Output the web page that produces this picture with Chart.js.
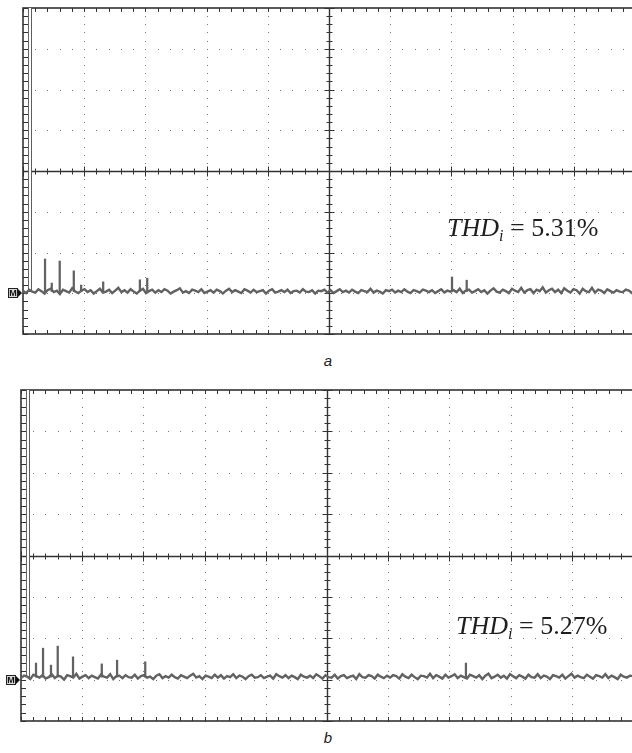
<!DOCTYPE html>
<html>
<head>
<meta charset="utf-8">
<script src="https://cdn.jsdelivr.net/npm/chart.js@4.4.1/dist/chart.umd.min.js"></script>
<style>
  html, body { margin: 0; padding: 0; background: #fff; overflow: hidden; width: 632px; height: 753px; }
  canvas { position: absolute; left: 0; }
  #scopeA { top: 0; }
  #scopeB { top: 380px; }
  .thd { position: absolute; font-family: "Liberation Serif", "Times New Roman", serif; font-size: 26px; line-height: 26px; color: #1e1e1e; white-space: nowrap; }
  .thd sub { font-size: 16px; vertical-align: -5px; line-height: 0; }
  .cap { position: absolute; left: 0; width: 656px; text-align: center; font-family: "Liberation Sans", Arial, sans-serif; font-style: italic; font-size: 15px; color: #222; }
</style>
</head>
<body>
<canvas id="scopeA" width="660" height="340"></canvas>
<canvas id="scopeB" width="660" height="345"></canvas>
<div class="thd" style="left:447px;top:215px"><i>THD<sub>i</sub></i> = 5.31%</div>
<div class="thd" style="left:456px;top:613px"><i>THD<sub>i</sub></i> = 5.27%</div>
<div class="cap" style="top:352px">a</div>
<div class="cap" style="top:729px">b</div>
<script>
// x in screen divisions (0..10), y in screen divisions (0..8)

// panel a
const floorA = 1.04;
const fundFreqA = 0.114;
const spikeFreqA = [0.36, 0.47, 0.60, 0.83, 0.95, 1.31, 1.91, 2.03, 7.01, 7.25];
const spikePeakA = [1.84, 1.25, 1.79, 1.55, 1.20, 1.28, 1.33, 1.37, 1.40, 1.32];
// noise floor, hundredths of a division around the floor
const noiseA = [
  2,-3,4,0,-2,5,1,-4,3,6,-1,2,-5,4,1,-2,7,0,-3,2,
  5,-1,3,-4,1,6,-2,0,4,-3,2,8,-1,3,-2,5,0,-4,2,6,
  -3,1,4,-2,3,-1,5,2,-4,0,3,7,-2,1,-3,4,2,-1,5,-3,
  0,3,-2,4,1,-4,2,6,-1,3,0,-3,5,2,-2,4,-1,1,3,-4,
  2,5,-2,0,3,-1,4,-3,1,2,-2,5,0,-1,3,-4,2,1,4,-2,
  3,-3,1,5,-1,2,-2,4,0,-3,3,1,-1,6,-2,2,0,-4,3,1,
  4,-2,2,-1,5,0,-3,3,1,-2,4,2,-1,3,-3,1,5,-2,2,0,
  3,-1,6,-3,2,4,-2,1,5,-1,3,-4,2,7,0,-2,4,1,-3,6,
  2,-1,8,-2,3,5,-3,4,1,9,-2,3,6,-1,4,-3,7,2,-2,5,
  3,-4,6,1,-1,8,-2,4,2,-3,5,1,-2,3,0,-1,4,2,-3,1
];

// panel b
const floorB = 1.06;
const fundFreqB = 0.114;
const spikeFreqB = [0.245, 0.36, 0.49, 0.60, 0.85, 1.32, 1.57, 2.03, 7.27];
const spikePeakB = [1.40, 1.76, 1.35, 1.81, 1.55, 1.38, 1.47, 1.43, 1.40];
const noiseB = [
  -2,3,1,-4,5,2,-1,4,-3,0,6,-2,3,1,-5,4,2,-1,7,-3,
  1,4,-2,3,0,-3,5,1,-1,6,-4,2,3,-2,4,0,-1,5,-3,2,
  4,-1,1,-4,3,6,-2,2,-1,5,0,-3,4,1,-2,3,7,-1,2,-4,
  3,1,-2,5,-1,4,-3,2,0,6,-2,3,1,-4,2,5,-1,0,4,-2,
  1,3,-3,6,2,-1,4,-2,3,0,-4,5,1,-1,3,-2,6,2,-3,4,
  0,-1,5,-3,2,4,-2,1,3,-4,6,0,-1,4,2,-3,5,1,-2,3,
  -1,4,2,-3,6,1,-2,5,0,-4,3,2,-1,7,-2,4,1,-3,5,-1,
  2,6,-2,3,0,-3,5,2,-1,4,-4,3,7,-2,1,5,-1,3,-3,6,
  2,-2,4,1,-3,5,0,-1,6,-2,3,1,-4,4,2,-1,5,-3,2,7,
  -1,3,0,-2,5,1,-3,4,2,-1,6,-2,3,0,-4,5,1,-1,3,2
];

const traceColor = '#626262';

// oscilloscope graticule: dotted grid, centre cross, border with ticks, "M" marker
const scopeGrid = {
  id: 'scopeGrid',
  beforeDatasetsDraw(chart) {
    const { ctx, chartArea: a, scales: { x, y } } = chart;
    const line = (x1, y1, x2, y2) => { ctx.beginPath(); ctx.moveTo(x1, y1); ctx.lineTo(x2, y2); ctx.stroke(); };
    ctx.save();
    ctx.fillStyle = '#777';
    for (let i = 1; i < 10; i++) {
      if (i === 5) continue;
      const px = Math.round(x.getPixelForValue(i));
      for (let k = 0; k <= 40; k++) ctx.fillRect(px, Math.round(y.getPixelForValue(k * 0.2)), 1, 1);
    }
    for (let j = 1; j < 8; j++) {
      if (j === 4) continue;
      const py = Math.round(y.getPixelForValue(j));
      for (let k = 0; k <= 50; k++) ctx.fillRect(Math.round(x.getPixelForValue(k * 0.2)), py, 1, 1);
    }

    const cx = Math.round(x.getPixelForValue(5)) + 0.5;
    const cy = Math.round(y.getPixelForValue(4)) + 0.5;
    ctx.strokeStyle = '#333';
    ctx.lineWidth = 1.4;
    line(a.left, cy, a.right, cy);
    line(cx, a.top, cx, a.bottom);

    ctx.lineWidth = 1;
    for (let k = 0; k <= 50; k++) {
      const tx = Math.round(x.getPixelForValue(k * 0.2)) + 0.5;
      const len = k % 5 === 0 ? 5 : 3;
      line(tx, cy - len, tx, cy + len);
      line(tx, a.top, tx, a.top + 4);
      line(tx, a.bottom, tx, a.bottom - 4);
    }
    for (let k = 0; k <= 40; k++) {
      const ty = Math.round(y.getPixelForValue(k * 0.2)) + 0.5;
      const len = k % 5 === 0 ? 5 : 3;
      line(cx - len, ty, cx + len, ty);
      line(a.left, ty, a.left + 5, ty);
    }

    ctx.lineWidth = 1.6;
    ctx.strokeRect(a.left, a.top, a.right - a.left, a.bottom - a.top);

    // reference marker at 1 division
    const my = Math.round(y.getPixelForValue(1));
    ctx.fillStyle = '#d8d8d8';
    ctx.fillRect(a.left - 15, my - 5, 10, 10);
    ctx.lineWidth = 1;
    ctx.strokeStyle = '#222';
    ctx.strokeRect(a.left - 14.5, my - 4.5, 9, 9);
    ctx.fillStyle = '#111';
    ctx.font = 'bold 9px "Liberation Sans", Arial, sans-serif';
    ctx.textAlign = 'center';
    ctx.textBaseline = 'middle';
    ctx.fillText('M', a.left - 10, my + 0.5);
    ctx.beginPath();
    ctx.moveTo(a.left - 5, my - 4);
    ctx.lineTo(a.left - 1, my);
    ctx.lineTo(a.left - 5, my + 4);
    ctx.closePath();
    ctx.fill();
    ctx.restore();
  }
};

function makeScope(id, pad, floor, noise, fundFreq, spikeFreq, spikePeak) {
  const step = 10 / (noise.length - 1);
  const noisePts = noise.map((v, i) => ({ x: i * step, y: floor + v / 85 }));
  const spikePts = spikeFreq.map((f, i) => ({ x: f, y: [floor, spikePeak[i]] }));
  return new Chart(document.getElementById(id), {
    type: 'line',
    data: {
      datasets: [
        { type: 'line', data: noisePts, borderColor: traceColor, borderWidth: 2.4, pointRadius: 0, tension: 0 },
        { type: 'bar', data: spikePts, backgroundColor: traceColor, borderWidth: 0, barThickness: 1.6, grouped: false },
        { type: 'bar', data: [{ x: fundFreq, y: [floor, 8.3] }], backgroundColor: '#fff', borderColor: '#555',
          borderWidth: 1, borderSkipped: false, barThickness: 3.5, grouped: false }
      ]
    },
    options: {
      responsive: false,
      animation: false,
      devicePixelRatio: 1,
      layout: { padding: pad },
      plugins: { legend: { display: false }, tooltip: { enabled: false } },
      scales: {
        x: { type: 'linear', min: 0, max: 10, offset: false, display: false },
        y: { min: 0, max: 8, display: false }
      }
    },
    plugins: [scopeGrid]
  });
}

makeScope('scopeA', { left: 23, right: 25, top: 8, bottom: 6 }, floorA, noiseA, fundFreqA, spikeFreqA, spikePeakA);
makeScope('scopeB', { left: 21, right: 27, top: 10, bottom: 4 }, floorB, noiseB, fundFreqB, spikeFreqB, spikePeakB);
</script>
</body>
</html>
